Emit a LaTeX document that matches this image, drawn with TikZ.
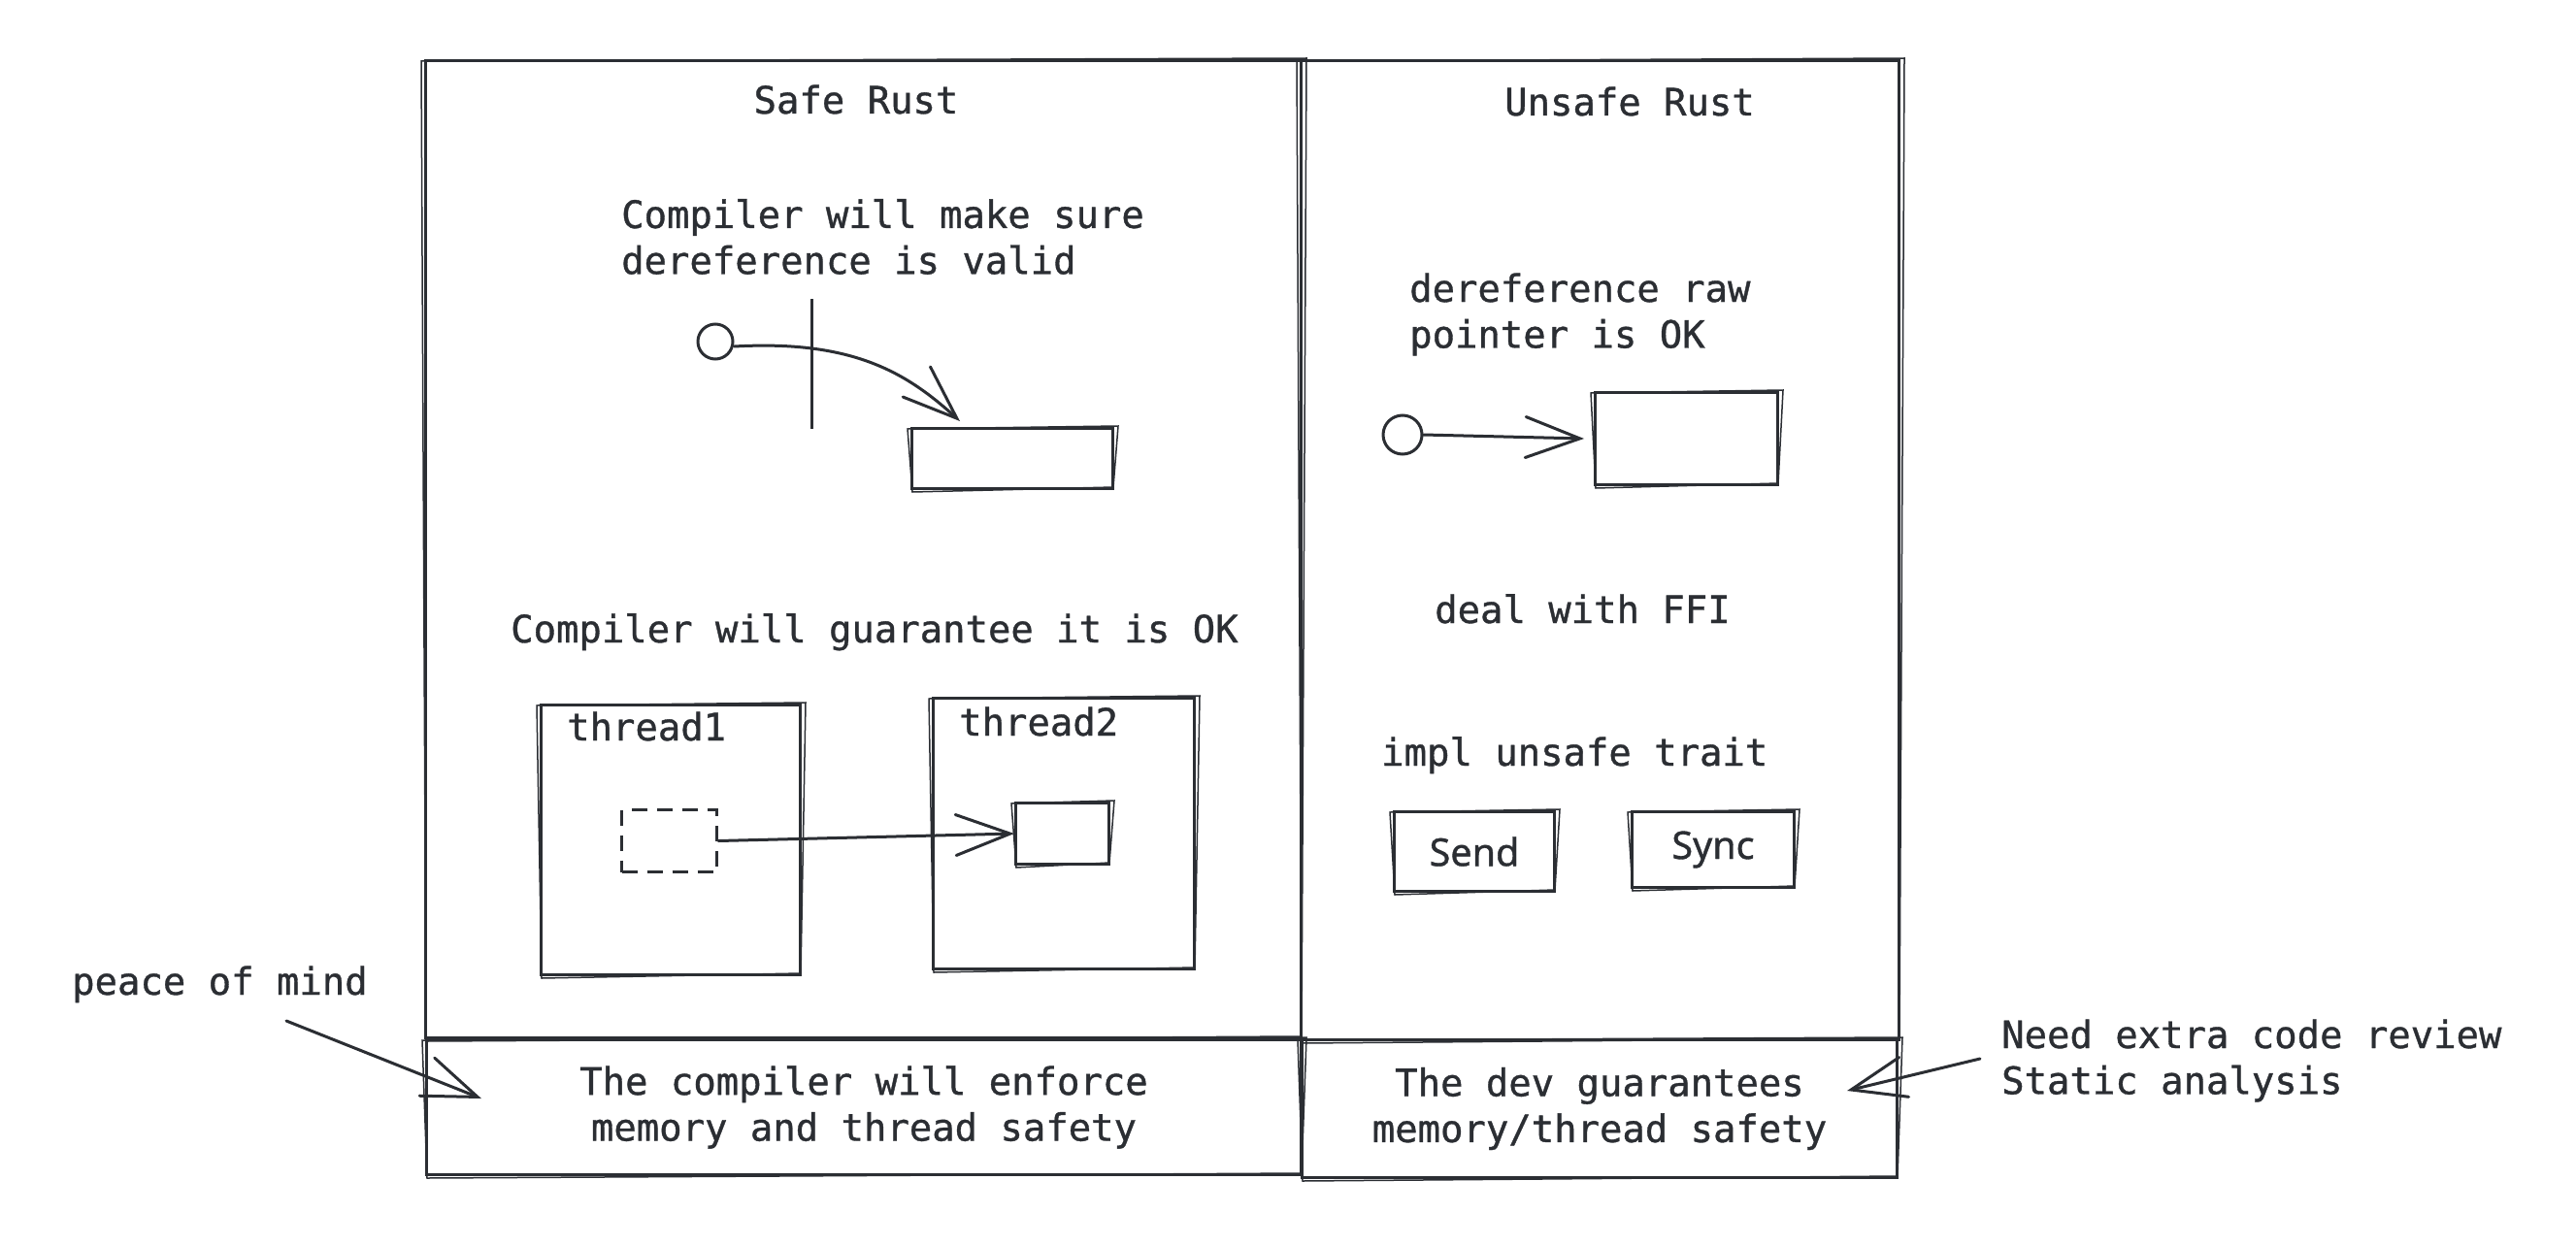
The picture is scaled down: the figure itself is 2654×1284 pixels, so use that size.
\documentclass[tikz,border=0pt]{standalone}
\usepackage{fontspec}
\setmonofont{DejaVu Sans Mono}[FakeBold=0.9]
\setsansfont{Noto Sans}[FakeBold=0.9]
\usetikzlibrary{arrows.meta}
\definecolor{ink}{HTML}{2B2E33}
\newcommand\jit[1]{%
  \draw[jitline] ([shift={(-3,2)}]#1.north west) -- ([shift={(4,-1)}]#1.north east)
    -- ([shift={(-1,-3)}]#1.south east) -- ([shift={(2,2)}]#1.south west) -- cycle;}
\begin{document}
\begin{tikzpicture}[x=1pt,y=-1pt,
  every node/.style={text=ink},
  box/.style={draw=ink,line width=3pt,inner sep=0pt,anchor=north west},
  jitline/.style={draw=ink,line width=1.5pt},
  lbl/.style={font=\fontsize{38.9pt}{47.4pt}\selectfont\ttfamily,inner sep=0pt,align=left},
  sanslbl/.style={font=\fontsize{39.5pt}{46pt}\selectfont\sffamily},
  plain/.style={draw=ink,line width=3pt},
  conn/.style={draw=ink,line width=3pt,line cap=round,-{Straight Barb[length=56pt,width=42pt,line cap=round]}},
]
\path[use as bounding box,fill=white] (0,0) rectangle (2654,1284);

% main boxes
\node[box,minimum width=902pt,minimum height=1007pt] (safe) at (437,61) {};
\node[box,minimum width=616pt,minimum height=1009pt] (unsafe) at (1339,61) {};
\node[box,minimum width=901pt,minimum height=139pt,lbl,align=center] (bl) at (438,1070) {The compiler will enforce\\memory and thread safety};
\node[box,minimum width=613pt,minimum height=142pt,lbl,align=center] (br) at (1340,1070) {The dev guarantees\\memory/thread safety};
\jit{safe}\jit{unsafe}\jit{bl}\jit{br}

% titles
\node[lbl,anchor=base] (tsafe) at (882,117) {Safe Rust};
\node[lbl,anchor=base] (tunsafe) at (1679,119) {Unsafe Rust};

% safe: dereference
\node[lbl,anchor=west] (cmake) at (640,244) {Compiler will make sure\\dereference is valid};
\node[draw=ink,line width=3pt,circle,minimum size=36pt,inner sep=0pt] (c1) at (737,352) {};
\node[box,minimum width=207pt,minimum height=62pt] (r1) at (938,440) {};
\jit{r1}
\coordinate (bar1) at (836,308);
\coordinate (bar2) at (836,442);
\draw[plain] (bar1) -- (bar2);
\coordinate (r1tip) at (989,434);
\draw[conn] ([yshift=-5pt]c1.east) .. controls (880,350) and (935,385) .. (r1tip);

% safe: threads
\node[lbl,anchor=base west] (cguar) at (526,662) {Compiler will guarantee it is OK};
\node[box,minimum width=267pt,minimum height=278pt] (t1) at (556,725) {};
\node[box,minimum width=269pt,minimum height=279pt] (t2) at (960,718) {};
\jit{t1}\jit{t2}
\node[lbl,anchor=base west] (t1l) at (584,763) {thread1};
\node[lbl,anchor=base west] (t2l) at (988,758) {thread2};
\node[box,dash pattern=on 16pt off 10pt,minimum width=98pt,minimum height=64pt] (d1) at (639,833) {};
\node[box,minimum width=96pt,minimum height=63pt] (s2) at (1045,826) {};
\jit{s2}
\draw[conn] (d1.east) -- (s2.west);

% unsafe: raw pointer
\node[lbl,anchor=west] (craw) at (1452,324) {dereference raw\\pointer is OK};
\node[draw=ink,line width=3pt,circle,minimum size=40pt,inner sep=0pt] (c2) at (1445,448) {};
\node[box,minimum width=188pt,minimum height=95pt] (r2) at (1642,403) {};
\jit{r2}
\draw[conn] (c2.east) -- ([xshift=-10pt]r2.west);

% unsafe: FFI and traits
\node[lbl,anchor=base west] (ffi) at (1478,642) {deal with FFI};
\node[lbl,anchor=base west] (impl) at (1423,789) {impl unsafe trait};
\node[box,minimum width=165pt,minimum height=82pt,sanslbl] (send) at (1435,835) {Send};
\node[box,minimum width=167pt,minimum height=78pt,sanslbl] (sync) at (1680,835) {Sync};
\jit{send}\jit{sync}

% side notes
\node[lbl,anchor=base west] (peace) at (74,1025) {peace of mind};
\coordinate (pm) at (295,1052);
\coordinate (pmtip) at (496,1132);
\draw[conn] (pm) -- (pmtip);
\node[lbl,anchor=west] (review) at (2062,1093) {Need extra code review\\Static analysis};
\coordinate (sa) at (2040,1091);
\coordinate (satip) at (1903,1124);
\draw[conn] (sa) -- (satip);
\end{tikzpicture}
\end{document}
